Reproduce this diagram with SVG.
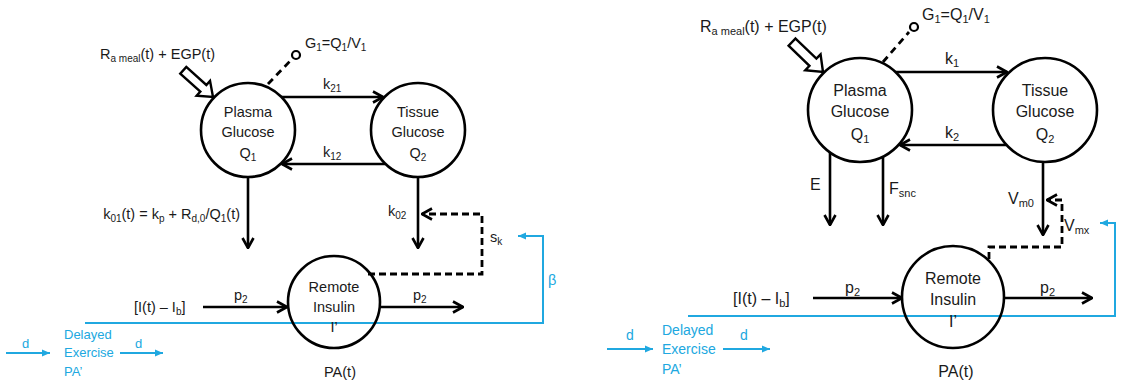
<svg xmlns="http://www.w3.org/2000/svg" width="1125" height="385" viewBox="0 0 1125 385">
<defs>
<style>
text{font-family:"Liberation Sans",Arial,sans-serif;fill:#1a1a1a}
.s{font-size:14.5px}
.l{font-size:16px}
.b{fill:#20a8e0}
.c{fill:#fff;stroke:#000;stroke-width:2.6}
.ln{fill:none;stroke:#000;stroke-width:2.6}
.dash{fill:none;stroke:#000;stroke-width:2.8;stroke-dasharray:7,4}
.bl{fill:none;stroke:#20a8e0;stroke-width:2}
.blk{fill:#fff;stroke:#000;stroke-width:2.4;stroke-linejoin:miter}
</style>
<marker id="ah" viewBox="0 0 12 14" refX="11" refY="7" markerWidth="12" markerHeight="14" orient="auto" markerUnits="userSpaceOnUse"><path d="M1,1.5 L11,7 L1,12.5" fill="none" stroke="#000" stroke-width="2.6"/></marker>
<marker id="bh" viewBox="0 0 8 8" refX="8" refY="4" markerWidth="8" markerHeight="8" orient="auto" markerUnits="userSpaceOnUse"><path d="M0,0.5 L8,4 L0,7.5 Z" fill="#20a8e0"/></marker>
</defs>

<!-- ================= LEFT DIAGRAM ================= -->
<g id="connectors-left">
  <line class="ln" x1="281" y1="97" x2="383" y2="97" marker-end="url(#ah)"/>
  <line class="ln" x1="385" y1="164" x2="282" y2="164" marker-end="url(#ah)"/>
  <line class="ln" x1="248" y1="177" x2="248" y2="248" marker-end="url(#ah)"/>
  <line class="ln" x1="418" y1="177" x2="418" y2="248" marker-end="url(#ah)"/>
  <polyline class="dash" points="368,274 482,274 482,214 422,214" marker-end="url(#ah)"/>
  <line class="ln" x1="203" y1="307" x2="287" y2="307" marker-end="url(#ah)"/>
  <line class="ln" x1="380" y1="307" x2="463" y2="307" marker-end="url(#ah)"/>
  <line x1="268" y1="84" x2="292" y2="59" stroke="#000" stroke-width="2.8" stroke-dasharray="7,5"/>
  <circle cx="296" cy="55" r="4" fill="#fff" stroke="#000" stroke-width="2.2"/>
  <polygon class="blk" transform="translate(213,97) rotate(42) translate(-40,0)" points="0,-4.5 27,-4.5 27,-10 40,0 27,10 27,4.5 0,4.5"/>
  <polyline class="bl" points="85,323 543,323 543,236 518,236" marker-end="url(#bh)"/>
  <line class="bl" x1="6" y1="353" x2="50" y2="353" marker-end="url(#bh)"/>
  <line class="bl" x1="120" y1="353" x2="163" y2="353" marker-end="url(#bh)"/>
</g>

<g id="plasma-left">
  <circle class="c" cx="248" cy="130" r="47"/>
  <text class="s" x="248" y="117" text-anchor="middle">Plasma</text>
  <text class="s" x="248" y="137" text-anchor="middle">Glucose</text>
  <text class="s" x="248" y="158" text-anchor="middle">Q<tspan font-size="10" dy="3">1</tspan></text>
</g>
<g id="tissue-left">
  <circle class="c" cx="418" cy="130" r="47"/>
  <text class="s" x="418" y="117" text-anchor="middle">Tissue</text>
  <text class="s" x="418" y="137" text-anchor="middle">Glucose</text>
  <text class="s" x="418" y="158" text-anchor="middle">Q<tspan font-size="10" dy="3">2</tspan></text>
</g>
<g id="remote-left">
  <circle cx="334" cy="302" r="46" fill="none" stroke="#000" stroke-width="2.6"/>
  <text class="s" x="334" y="292" text-anchor="middle">Remote</text>
  <text class="s" x="334" y="312" text-anchor="middle">Insulin</text>
  <text class="s" x="334" y="332" text-anchor="middle">I’</text>
</g>
<g id="labels-left">
  <text class="s" x="100" y="59">R<tspan font-size="10" dy="3">a meal</tspan><tspan dy="-3">(t) + EGP(t)</tspan></text>
  <text class="s" x="305" y="48">G<tspan font-size="10" dy="3">1</tspan><tspan dy="-3">=Q</tspan><tspan font-size="10" dy="3">1</tspan><tspan dy="-3">/V</tspan><tspan font-size="10" dy="3">1</tspan></text>
  <text class="s" x="323" y="89">k<tspan font-size="10" dy="3">21</tspan></text>
  <text class="s" x="323" y="157">k<tspan font-size="10" dy="3">12</tspan></text>
  <text class="s" x="240" y="219" text-anchor="end">k<tspan font-size="10" dy="3">01</tspan><tspan dy="-3">(t) = k</tspan><tspan font-size="10" dy="3">p</tspan><tspan dy="-3"> + R</tspan><tspan font-size="10" dy="3">d,0</tspan><tspan dy="-3">/Q</tspan><tspan font-size="10" dy="3">1</tspan><tspan dy="-3">(t)</tspan></text>
  <text class="s" x="388" y="216">k<tspan font-size="10" dy="3">02</tspan></text>
  <text class="s" x="490" y="242">s<tspan font-size="10" dy="3">k</tspan></text>
  <text class="s b" x="548" y="285">β</text>
  <text class="s" x="413" y="300">p<tspan font-size="10" dy="3">2</tspan></text>
  <text class="s" x="234" y="300">p<tspan font-size="10" dy="3">2</tspan></text>
  <text class="s" x="134" y="312">[I(t) – I<tspan font-size="10" dy="3">b</tspan><tspan dy="-3">]</tspan></text>
  <text class="s" x="340" y="377" text-anchor="middle">PA(t)</text>
</g>
<g id="exercise-left">
  <text class="b" font-size="13" x="22" y="348">d</text>
  <text class="b" font-size="13" x="135" y="348">d</text>
  <text class="b" font-size="13" x="64" y="339">Delayed</text>
  <text class="b" font-size="13" x="64" y="357">Exercise</text>
  <text class="b" font-size="13" x="64" y="376">PA’</text>
</g>

<!-- ================= RIGHT DIAGRAM ================= -->
<g id="connectors-right">
  <line class="ln" x1="895" y1="72" x2="1007" y2="72" marker-end="url(#ah)"/>
  <line class="ln" x1="1006" y1="145" x2="900" y2="145" marker-end="url(#ah)"/>
  <line class="ln" x1="830" y1="152" x2="830" y2="225" marker-end="url(#ah)"/>
  <line class="ln" x1="883" y1="156" x2="883" y2="225" marker-end="url(#ah)"/>
  <line class="ln" x1="1043" y1="162" x2="1043" y2="235" marker-end="url(#ah)"/>
  <polyline class="dash" points="989,259 989,247 1062,247 1062,200 1047,200" marker-end="url(#ah)"/>
  <line class="ln" x1="813" y1="298" x2="902" y2="298" marker-end="url(#ah)"/>
  <line class="ln" x1="1004" y1="298" x2="1092" y2="298" marker-end="url(#ah)"/>
  <line x1="883" y1="62" x2="909" y2="32" stroke="#000" stroke-width="2.8" stroke-dasharray="7,5"/>
  <circle cx="914" cy="27" r="4" fill="#fff" stroke="#000" stroke-width="2.2"/>
  <polygon class="blk" transform="translate(823,72) rotate(44) translate(-43,0)" points="0,-5 29,-5 29,-11 43,0 29,11 29,5 0,5"/>
  <polyline class="bl" points="688,316 1115,316 1115,223 1100,223" marker-end="url(#bh)"/>
  <line class="bl" x1="607" y1="349" x2="653" y2="349" marker-end="url(#bh)"/>
  <line class="bl" x1="723" y1="349" x2="770" y2="349" marker-end="url(#bh)"/>
</g>

<g id="plasma-right">
  <circle class="c" cx="860" cy="110" r="52"/>
  <text class="l" x="860" y="96" text-anchor="middle">Plasma</text>
  <text class="l" x="860" y="117" text-anchor="middle">Glucose</text>
  <text class="l" x="860" y="140" text-anchor="middle">Q<tspan font-size="11" dy="3">1</tspan></text>
</g>
<g id="tissue-right">
  <circle class="c" cx="1045" cy="110" r="52"/>
  <text class="l" x="1045" y="96" text-anchor="middle">Tissue</text>
  <text class="l" x="1045" y="117" text-anchor="middle">Glucose</text>
  <text class="l" x="1045" y="140" text-anchor="middle">Q<tspan font-size="11" dy="3">2</tspan></text>
</g>
<g id="remote-right">
  <circle cx="953" cy="297" r="51" fill="none" stroke="#000" stroke-width="2.6"/>
  <text class="l" x="953" y="284" text-anchor="middle">Remote</text>
  <text class="l" x="953" y="305" text-anchor="middle">Insulin</text>
  <text class="l" x="953" y="327" text-anchor="middle">I’</text>
</g>
<g id="labels-right">
  <text class="l" x="700" y="32">R<tspan font-size="11" dy="3">a meal</tspan><tspan dy="-3">(t) + EGP(t)</tspan></text>
  <text class="l" x="922" y="20">G<tspan font-size="11" dy="3">1</tspan><tspan dy="-3">=Q</tspan><tspan font-size="11" dy="3">1</tspan><tspan dy="-3">/V</tspan><tspan font-size="11" dy="3">1</tspan></text>
  <text class="l" x="945" y="64">k<tspan font-size="11" dy="3">1</tspan></text>
  <text class="l" x="945" y="138">k<tspan font-size="11" dy="3">2</tspan></text>
  <text class="l" x="810" y="190">E</text>
  <text class="l" x="889" y="194">F<tspan font-size="11" dy="3">snc</tspan></text>
  <text class="l" x="1008" y="204">V<tspan font-size="11" dy="3">m0</tspan></text>
  <text class="l" x="1064" y="231">V<tspan font-size="11" dy="3">mx</tspan></text>
  <text class="l" x="1040" y="293">p<tspan font-size="11" dy="3">2</tspan></text>
  <text class="l" x="845" y="293">p<tspan font-size="11" dy="3">2</tspan></text>
  <text class="l" x="733" y="304">[I(t) – I<tspan font-size="11" dy="3">b</tspan><tspan dy="-3">]</tspan></text>
  <text class="l" x="956" y="377" text-anchor="middle">PA(t)</text>
</g>
<g id="exercise-right">
  <text class="b" font-size="14" x="626" y="340">d</text>
  <text class="b" font-size="14" x="740" y="340">d</text>
  <text class="b" font-size="14" x="662" y="335">Delayed</text>
  <text class="b" font-size="14" x="662" y="354">Exercise</text>
  <text class="b" font-size="14" x="662" y="374">PA’</text>
</g>
</svg>
